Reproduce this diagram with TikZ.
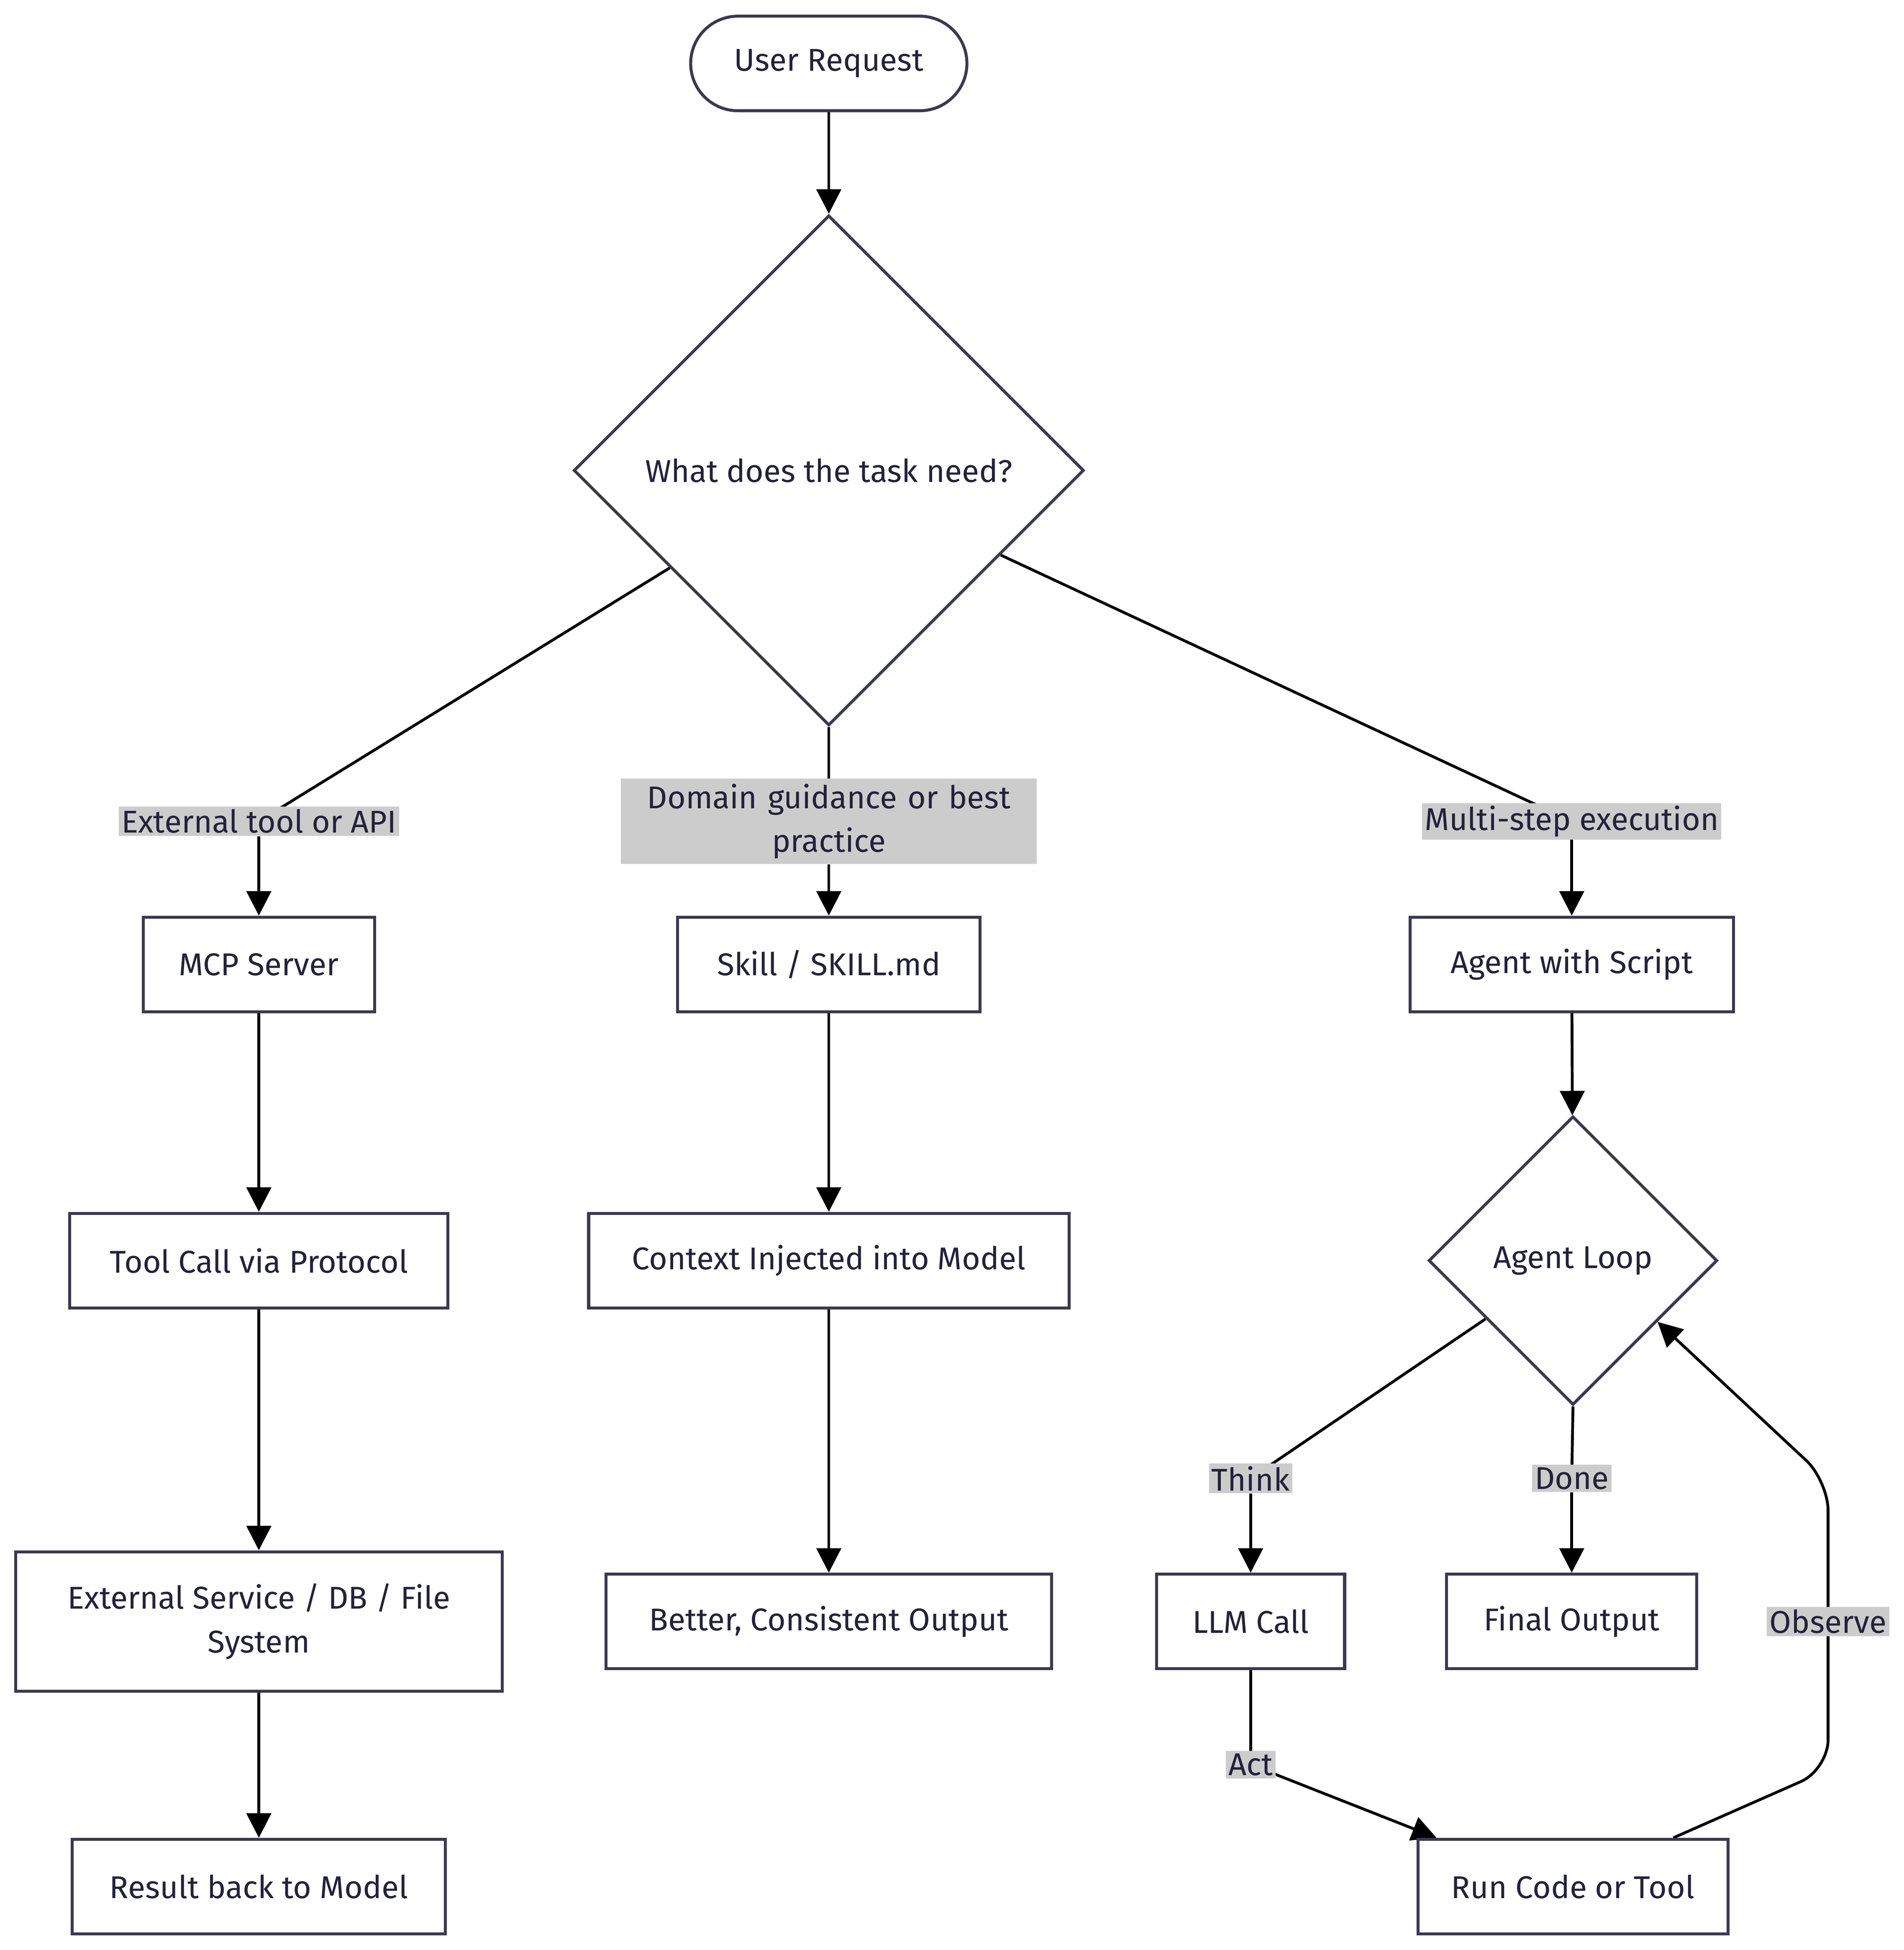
\documentclass[tikz,border=0pt]{standalone}
\usepackage{fontspec}
\setmainfont{Fira Sans}
\usetikzlibrary{shapes.geometric,arrows.meta,backgrounds,calc}
\definecolor{boxline}{HTML}{3B3950}
\definecolor{txt}{HTML}{22223A}
\definecolor{lblgray}{HTML}{CCCCCC}
\tikzset{
  box/.style={draw=boxline, line width=3.4pt, fill=white, text=txt, minimum height=3.8cm, inner sep=0pt},
  decide/.style={draw=boxline, line width=3.4pt, fill=white, text=txt, diamond, inner sep=0pt},
  edgelbl/.style={fill=lblgray, text=txt, inner sep=3pt, align=center},
  link/.style={line width=3.2pt, -{Triangle[length=28pt,width=28pt]}},
  plain/.style={line width=3.2pt}
}
\begin{document}
\begin{tikzpicture}[x=0.05cm, y=-0.05cm, font=\fontsize{36}{50}\selectfont]
  \useasboundingbox (0,0) rectangle (1530,1567);

  % top
  \node[box, rounded corners=1.9cm, minimum width=11.1cm] (req) at (666,51) {User Request};
  \node[decide, minimum size=20.5cm] (task) at (666,378) {What does the task need?};

  % branch labels
  \node[edgelbl] (lext) at (208,660) {External tool or API};
  \node[edgelbl, text width=16.5cm, inner ysep=6pt] (ldom) at (666,660) {Domain guidance or best\\practice};
  \node[edgelbl] (lmul) at (1263,660) {Multi-step execution};

  % columns
  \node[box, minimum width=9.3cm] (mcp) at (208,775) {MCP Server};
  \node[box, minimum width=12.15cm] (skill) at (666,775) {Skill / SKILL.md};
  \node[box, minimum width=13cm] (agent) at (1263,775) {Agent with Script};

  \node[box, minimum width=15.2cm] (tool) at (208,1013) {Tool Call via Protocol};
  \node[box, minimum width=19.3cm] (ctx) at (666,1013) {Context Injected into Model};
  \node[decide, minimum size=11.6cm] (loop) at (1264,1013) {Agent Loop};

  \node[box, minimum width=19.55cm, minimum height=5.6cm, align=center] (ext) at (208,1303) {External Service / DB / File\\System};
  \node[box, minimum width=17.9cm] (better) at (666,1303) {Better, Consistent Output};
  \node[box, minimum width=7.55cm] (llm) at (1005,1303) {LLM Call};
  \node[box, minimum width=10.05cm] (final) at (1263,1303) {Final Output};

  \node[box, minimum width=15cm] (result) at (208,1516) {Result back to Model};
  \node[box, minimum width=12.45cm] (run) at (1264,1516) {Run Code or Tool};

  % loop labels
  \node[edgelbl] (lthink) at (1005,1188) {Think};
  \node[edgelbl] (ldone) at (1263,1188) {Done};
  \node[edgelbl] (lact) at (1005,1418) {Act};
  \node[edgelbl] (lobs) at (1469,1303) {Observe};

  \begin{scope}[on background layer]
    \draw[plain] ($(task.west)!0.38!(task.south)$) -- (lext.center);
    \draw[plain] (task.south) -- (ldom.center);
    \draw[plain] ($(task.east)!0.33!(task.south)$) -- (lmul.center);
    \draw[plain] ($(loop.west)!0.4!(loop.south)$) -- (lthink.center);
    \draw[plain] (loop.south) -- (ldone.center);
    \draw[plain] (llm.south) -- (lact.center);
    \draw[link] (lact.center) -- ($(run.north west)+(16,0)$);
    \draw[link, rounded corners=1.2cm] ($(run.north east)-(45,0)$) -- (1469,1422) -- (lobs.center) -- (1469,1190) -- ($(loop.east)!0.42!(loop.south)$);
  \end{scope}

  \draw[link] (req) -- (task);
  \draw[link] (lext) -- (mcp);
  \draw[link] (ldom) -- (skill);
  \draw[link] (lmul) -- (agent);
  \draw[link] (mcp) -- (tool);
  \draw[link] (skill) -- (ctx);
  \draw[link] (agent) -- (loop);
  \draw[link] (tool) -- (ext);
  \draw[link] (ctx) -- (better);
  \draw[link] (ext) -- (result);
  \draw[link] (lthink) -- (llm);
  \draw[link] (ldone) -- (final);
\end{tikzpicture}
\end{document}
